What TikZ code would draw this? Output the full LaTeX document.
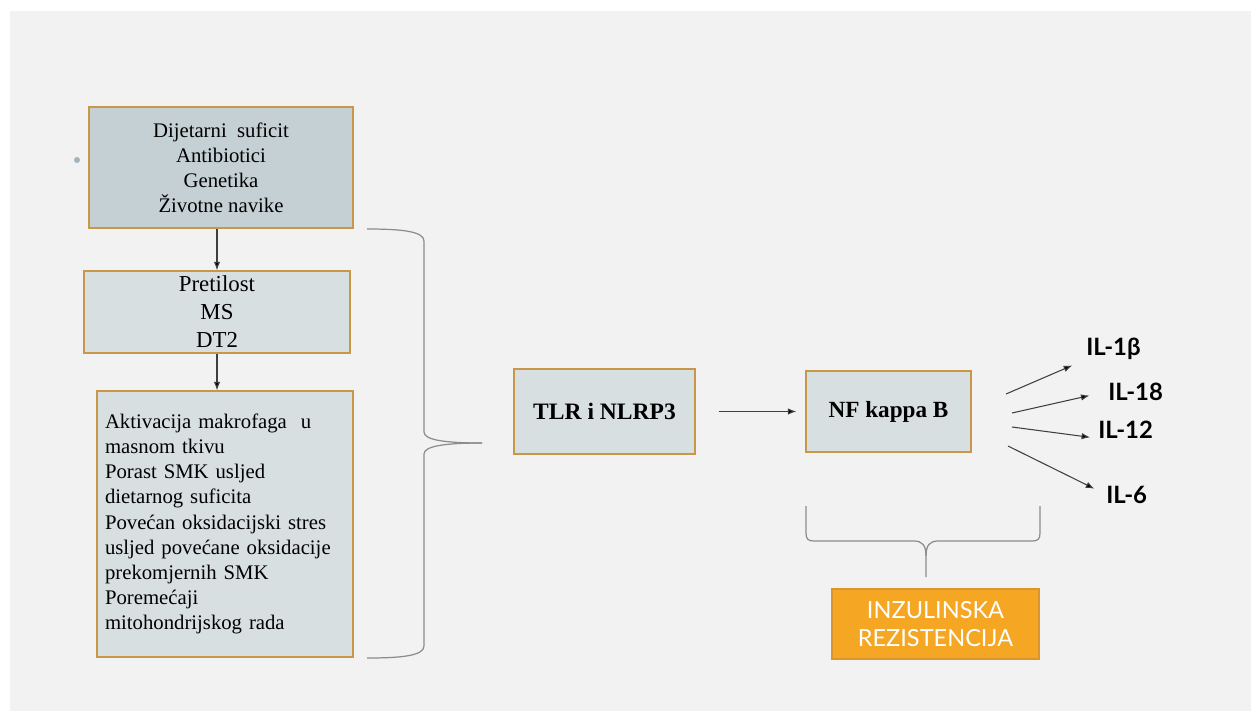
\documentclass[tikz,border=0pt]{standalone}
\usepackage{fontspec}
\setmainfont{Liberation Serif}
\newfontfamily\gillfont{Lato}
\usetikzlibrary{arrows.meta}
\definecolor{slidebg}{HTML}{F2F2F2}
\definecolor{boxdark}{HTML}{C5D0D4}
\definecolor{boxlight}{HTML}{D8DFE1}
\definecolor{boxedge}{HTML}{C9974A}
\definecolor{irfill}{HTML}{F5A623}
\definecolor{iredge}{HTML}{D9952E}
\definecolor{bracegray}{HTML}{8C8C8C}
\definecolor{arrowgray}{HTML}{3F3F3F}
\definecolor{bulletgray}{HTML}{A3B4BE}

\begin{document}
\begin{tikzpicture}[x=0.02cm,y=-0.02cm,
      >={Latex[length=0.17cm,width=0.13cm,fill=black]},
      every node/.append style={inner sep=0pt},
      box/.style={draw=boxedge,fill=boxlight,line width=0.8pt},
      arr/.style={->,draw=arrowgray,line width=0.6pt},
      brace/.style={draw=bracegray,line width=0.7pt},
      il/.style={anchor=base west,font=\gillfont\bfseries\fontsize{13.6}{16}\selectfont}]
    \fill[white] (0,0) rectangle (1251,711);
    \fill[slidebg] (10,11) rectangle (1251,711);
    \fill[bulletgray] (77,160) circle (0.06cm);
    % left column
    \node (causes) [box,fill=boxdark,minimum width=5.28cm,minimum height=2.42cm,align=center,
        font=\fontsize{11.8}{14.2}\selectfont] at (221,167.5)
        {Dijetarni\ \ suficit\\Antibiotici\\Genetika\\Životne navike};
    \node (disease) [box,minimum width=5.32cm,minimum height=1.64cm,align=center,
        font=\fontsize{13}{15.9}\selectfont] at (217,312)
        {Pretilost\\MS\\DT2};
    \node (mechanisms) [box,minimum width=5.12cm,minimum height=5.32cm,text width=4.8cm,align=left,
        font=\fontsize{11.8}{14.3}\selectfont] at (225,524)
        {Aktivacija makrofaga\ \ u\\masnom tkivu\\Porast SMK usljed\\dietarnog suficita\\
         Povećan oksidacijski stres\\usljed povećane oksidacije\\prekomjernih SMK\\
         Poremećaji\\mitohondrijskog rada};
    \draw[arr] (disease.north |- causes.south) -- (disease.north);
    \draw[arr] (disease.south) -- (disease.south |- mechanisms.north);
    % big brace
    \draw[brace] (367,229) .. controls (400,229) and (424,231) .. (424,241) -- (424,432)
        .. controls (424,440) and (445,443) .. (482,443);
    \draw[brace] (367,658) .. controls (400,658) and (424,656) .. (424,646) -- (424,454)
        .. controls (424,446) and (445,443) .. (482,443);
    % middle
    \node (TLR) [box,minimum width=3.62cm,minimum height=1.7cm,
        font=\bfseries\fontsize{13.4}{16}\selectfont] at (604.5,411.5) {TLR i NLRP3};
    \node (NFkB) [box,minimum width=3.3cm,minimum height=1.62cm,
        font=\bfseries\fontsize{13.2}{16}\selectfont] at (888.5,411.5) {NF kappa B};
    \draw[arr,shorten <=0.46cm,shorten >=0.18cm] (TLR) -- (NFkB);
    % cytokines
    \node (IL1b) [il] at (1086,355) {IL-1β};
    \node (IL18) [il] at (1108,400) {IL-18};
    \node (IL12) [il] at (1098,438) {IL-12};
    \node (IL6) [il] at (1106,503) {IL-6};
    \coordinate (s1) at (1006,394);
    \coordinate (s2) at (1012,413);
    \coordinate (s3) at (1012,427);
    \coordinate (s4) at (1008,446);
    \draw[arr,shorten >=0.3cm] (s1) -- (IL1b.south west);
    \draw[arr,shorten >=0.38cm] (s2) -- (IL18.west);
    \draw[arr,shorten >=0.16cm] (s3) -- (IL12.south west);
    \draw[arr,shorten >=0.26cm] (s4) -- (IL6.west);
    % lower brace
    \draw[brace] (806,506) -- (806,533) .. controls (806,539) and (808,541) .. (814,541)
        -- (914,541) .. controls (922,541) and (926,545) .. (926,556) -- (926,577);
    \draw[brace] (1040,506) -- (1040,533) .. controls (1040,539) and (1038,541) .. (1032,541)
        -- (938,541) .. controls (930,541) and (926,545) .. (926,556);
    \node (IR) [draw=iredge,fill=irfill,line width=0.8pt,minimum width=4.14cm,minimum height=1.4cm,
        align=center,text=white,font=\gillfont\fontsize{13.4}{15.9}\selectfont] at (935.5,624)
        {INZULINSKA\\REZISTENCIJA};
\end{tikzpicture}
\end{document}
